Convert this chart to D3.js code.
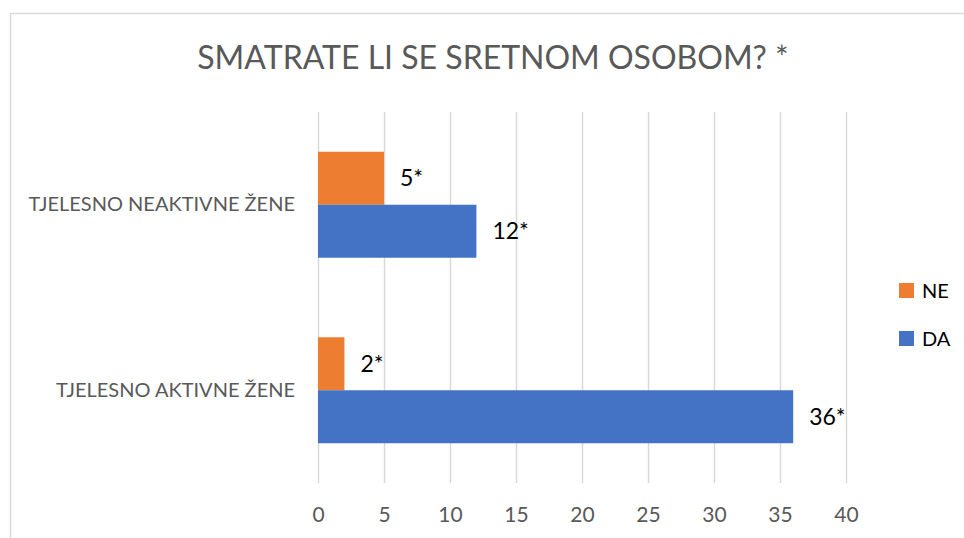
<!DOCTYPE html>
<html>
<head>
<meta charset="utf-8">
<script src="https://cdn.jsdelivr.net/npm/d3@7"></script>
<style>
  body { margin: 0; background: #fff; }
  svg { display: block; font-family: Lato, "Open Sans", sans-serif; }
</style>
</head>
<body>
<div id="chart"></div>
<script>
const width = 964;
const height = 538;

const title = 'SMATRATE LI SE SRETNOM OSOBOM? *';
const categories = ['TJELESNO NEAKTIVNE ŽENE', 'TJELESNO AKTIVNE ŽENE'];
const seriesNames = ['NE', 'DA'];
const seriesColors = ['#ED7D31', '#4472C4'];
const valuesNE = [5, 2];
const valuesDA = [12, 36];
const labelsNE = ['5*', '2*'];
const labelsDA = ['12*', '36*'];
const xTicks = [0, 5, 10, 15, 20, 25, 30, 35, 40];

const margin = ({top: 112, right: 118, bottom: 55, left: 318});

const svg = d3.select('#chart')
              .append('svg')
              .attr('width', width)
              .attr('height', height);

// chart frame (only left + top visible in reference)
svg.append('path')
   .attr('d', `M10.5,${height} V13.5 H${width}`)
   .attr('fill', 'none')
   .attr('stroke', '#d9d9d9')
   .attr('stroke-width', 1.5);

svg.append('text')
   .attr('x', 493)
   .attr('y', 69)
   .attr('text-anchor', 'middle')
   .attr('font-size', 32)
   .attr('fill', '#595959')
   .text(title);

const x = d3.scaleLinear()
            .domain([0, 40])
            .range([margin.left, width - margin.right]);

const y = d3.scaleBand()
            .domain(categories)
            .range([margin.top, height - margin.bottom])
            .paddingInner(0.4286)
            .paddingOuter(0.2143);

const ySub = d3.scaleBand()
               .domain(seriesNames)
               .range([0, y.bandwidth()]);

// gridlines
svg.append('g')
   .selectAll('line')
   .data(xTicks)
   .join('line')
   .attr('x1', d => x(d) + 0.5)
   .attr('x2', d => x(d) + 0.5)
   .attr('y1', margin.top)
   .attr('y2', height - margin.bottom)
   .attr('stroke', '#d9d9d9')
   .attr('stroke-width', 1.5);

// x axis labels
const xAxis = g => g
    .attr('transform', `translate(0,${height - margin.bottom})`)
    .call(d3.axisBottom(x).tickValues(xTicks).tickSize(0).tickPadding(24))
    .call(g => g.select('.domain').remove())
    .call(g => g.selectAll('text')
                .attr('font-size', 21)
                .attr('font-family', 'Lato, "Open Sans", sans-serif')
                .attr('fill', '#595959'));

svg.append('g').call(xAxis);

// category labels
const yAxis = g => g
    .attr('transform', `translate(${margin.left - 23},0)`)
    .call(d3.axisLeft(y).tickSize(0).tickPadding(0))
    .call(g => g.select('.domain').remove())
    .call(g => g.selectAll('text')
                .attr('font-size', 20)
                .attr('font-family', 'Lato, "Open Sans", sans-serif')
                .attr('fill', '#595959'));

svg.append('g').call(yAxis);

const rows = categories.map((c, i) => ({
  category: c,
  bars: [
    {series: 'NE', value: valuesNE[i], label: labelsNE[i], color: seriesColors[0]},
    {series: 'DA', value: valuesDA[i], label: labelsDA[i], color: seriesColors[1]}
  ]
}));

const groups = svg.append('g')
                  .selectAll('g')
                  .data(rows)
                  .join('g')
                  .attr('transform', d => `translate(0,${y(d.category)})`);

groups.selectAll('rect')
      .data(d => d.bars)
      .join('rect')
      .attr('x', x(0))
      .attr('y', d => ySub(d.series))
      .attr('width', d => x(d.value) - x(0))
      .attr('height', ySub.bandwidth())
      .attr('fill', d => d.color);

groups.selectAll('text.val')
      .data(d => d.bars)
      .join('text')
      .attr('class', 'val')
      .attr('x', d => x(d.value) + 16)
      .attr('y', d => ySub(d.series) + ySub.bandwidth() / 2)
      .attr('dy', '0.35em')
      .attr('font-size', 23)
      .attr('fill', '#000')
      .text(d => d.label);

// legend
const legend = svg.append('g')
                  .selectAll('g')
                  .data(seriesNames)
                  .join('g')
                  .attr('transform', (d, i) => `translate(899,${283 + i * 48})`);

legend.append('rect')
      .attr('width', 15)
      .attr('height', 15)
      .attr('fill', (d, i) => seriesColors[i]);

legend.append('text')
      .attr('x', 23)
      .attr('y', 15)
      .attr('font-size', 20)
      .attr('fill', '#000')
      .text(d => d);
</script>
</body>
</html>
